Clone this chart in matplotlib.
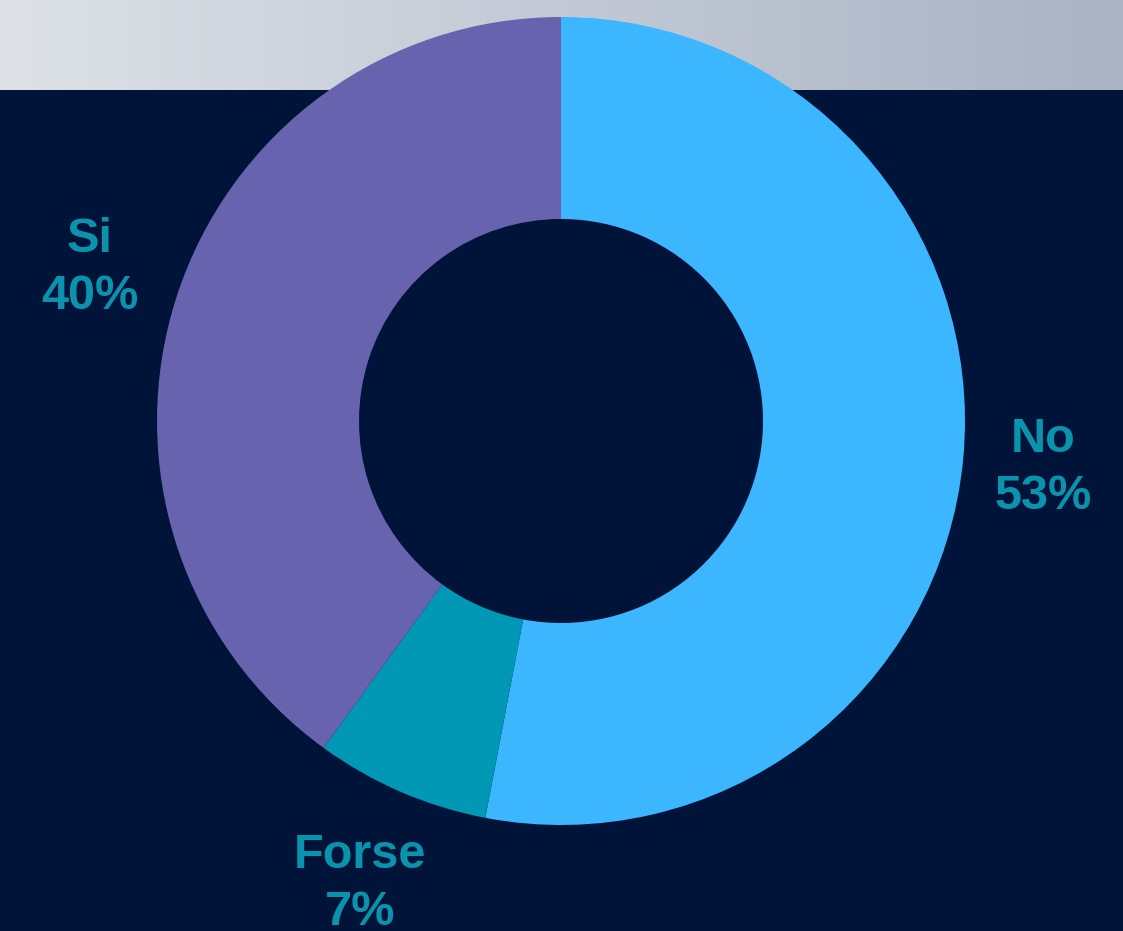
import numpy as np
import matplotlib
matplotlib.use("Agg")
import matplotlib.pyplot as plt

categories = ["No", "Forse", "Si"]
values = [53, 7, 40]
colors = ["#3bb6ff", "#0098b4", "#6863af"]
label_color = "#0b93ae"

W, H = 1123, 931
fig = plt.figure(figsize=(W / 100, H / 100), dpi=100)
fig.patch.set_facecolor("#001338")
ax = fig.add_axes([0, 0, 1, 1])
ax.set_facecolor("#001338")
ax.set_xlim(0, W)
ax.set_ylim(0, H)
ax.set_aspect("equal")
ax.axis("off")

# top gradient band
grad = np.linspace(0, 1, 256)
c0 = np.array([0xdd, 0xe1, 0xe7]) / 255
c1 = np.array([0xa9, 0xb3, 0xc4]) / 255
img = (c0[None, :] * (1 - grad[:, None]) + c1[None, :] * grad[:, None])[None, :, :]
ax.imshow(img, extent=(0, W, H - 90, H), aspect="auto", zorder=0)

cx, cy, R = 561, H - 421, 404
wedges, _ = ax.pie(values, colors=colors, startangle=90, counterclock=False,
                   center=(cx, cy), radius=R, frame=True,
                   wedgeprops=dict(width=R * 0.5, edgecolor="none"))
for w in wedges:
    w.set_zorder(2)
ax.set_xlim(0, W)
ax.set_ylim(0, H)
ax.axis("off")

label_pos = {"No": (1043, H - 468), "Forse": (360, H - 884), "Si": (90, H - 268)}
for cat, v in zip(categories, values):
    x, y = label_pos[cat]
    ax.text(x, y, f"{cat}\n{v}%", ha="center", va="center", color=label_color,
            fontsize=35, fontweight="bold", family="Liberation Sans",
            linespacing=1.32, zorder=3)

fig.savefig("out.png", dpi=100, facecolor=fig.get_facecolor())
